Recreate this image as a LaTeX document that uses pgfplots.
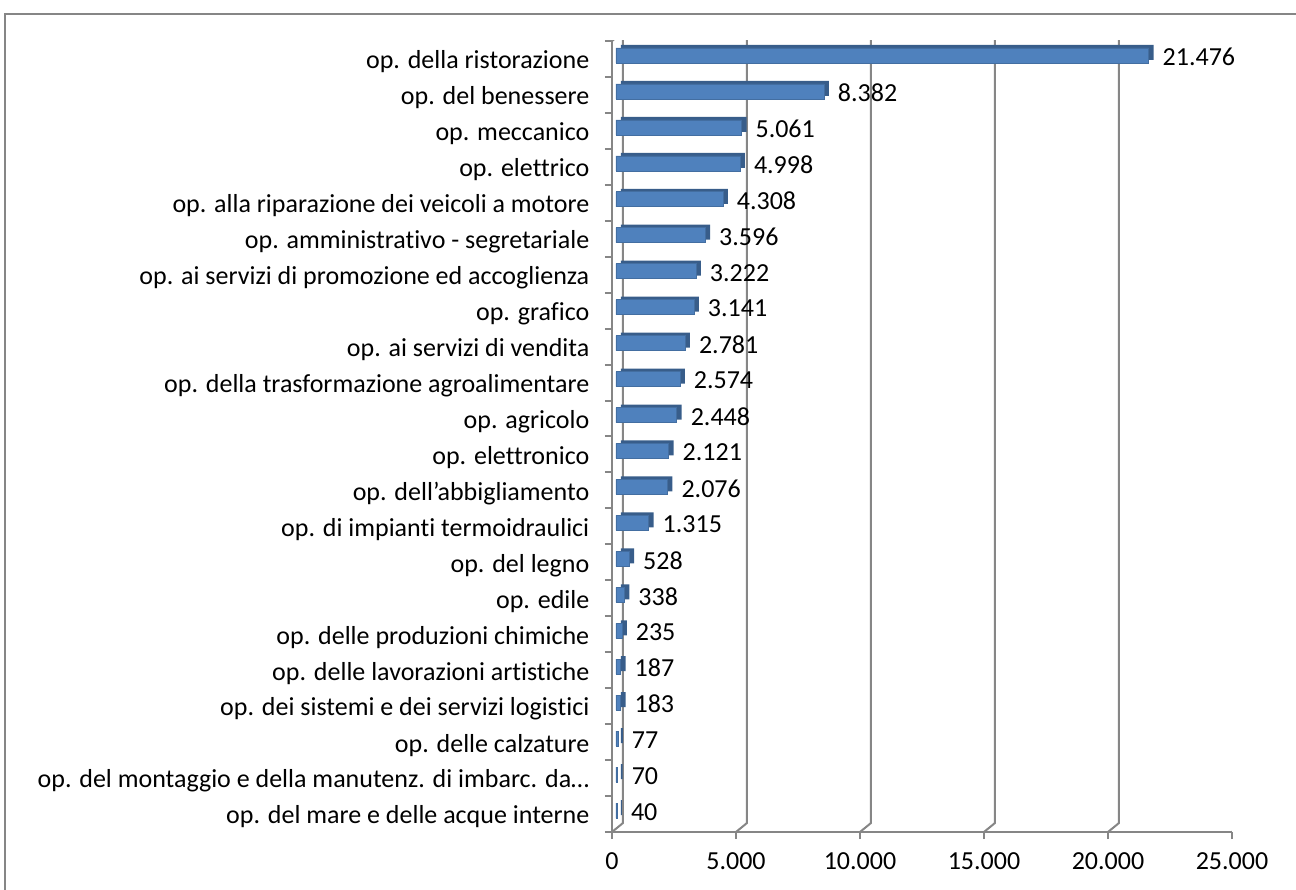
\documentclass[border=0pt]{standalone}
\usepackage{fontspec}
\setmainfont{Carlito}[Ligatures=NoCommon]
\usepackage{pgfplots}
\usepackage{pgfplotstable}
\pgfplotsset{compat=1.18}

\definecolor{gridc}{HTML}{868686}
\definecolor{barfront}{HTML}{4F81BD}
\definecolor{barside}{HTML}{385D8A}

% idx 0 = bottom row
\pgfplotstableread{
idx val
0 40
1 70
2 77
3 183
4 187
5 235
6 338
7 528
8 1315
9 2076
10 2121
11 2448
12 2574
13 2781
14 3141
15 3222
16 3596
17 4308
18 4998
19 5061
20 8382
21 21476
}\datatable

\newcommand{\lblfont}{\fontsize{13}{15.5}\selectfont}

\begin{document}
\begin{tikzpicture}
\path[use as bounding box] (-306pt,-28.5pt) rectangle (342pt,416pt);
\draw[gridc, line width=1pt] (-303.5pt,-60pt) |- (400pt,409pt);
\begin{axis}[
  at={(0,0)}, anchor=south west,
  scale only axis, width=310pt, height=395.5pt,
  xmin=0, xmax=25000, ymin=-0.5, ymax=21.5,
  axis x line=bottom, axis y line=left,
  axis line style={-, gridc, line width=1pt},
  tick align=outside, major tick length=3.5pt,
  tick style={gridc, line width=1pt},
  xtick={0,5000,...,25000},
  scaled x ticks=false,
  ytick={-0.5,0.5,...,21.5}, yticklabels={},
  extra y ticks={0,...,21},
  extra y tick labels={
    op. del mare e delle acque interne,
    op. del montaggio e della manutenz. di imbarc. da…,
    op. delle calzature,
    op. dei sistemi e dei servizi logistici,
    op. delle lavorazioni artistiche,
    op. delle produzioni chimiche,
    op. edile,
    op. del legno,
    op. di impianti termoidraulici,
    op. dell’abbigliamento,
    op. elettronico,
    op. agricolo,
    op. della trasformazione agroalimentare,
    op. ai servizi di vendita,
    op. grafico,
    op. ai servizi di promozione ed accoglienza,
    op. amministrativo - segretariale,
    op. alla riparazione dei veicoli a motore,
    op. elettrico,
    op. meccanico,
    op. del benessere,
    op. della ristorazione},
  extra y tick style={tick style={draw=none}, yticklabel style={xshift=-4.3pt, yshift=-1.5pt}},
  tick label style={font=\lblfont, text=black},
  xticklabel style={yshift=-3.5pt},
  /pgf/number format/.cd, 1000 sep={.}, assume math mode=true,
]
\pgfplotsinvokeforeach{0,5000,10000,15000,20000,25000}{
  \draw[gridc, line width=1pt] (axis cs:#1,-0.5) -- ++(5.5pt,4.5pt) -- ++(0pt,395.5pt);
}
\draw[gridc, line width=1pt] (axis cs:0,21.5) -- ++(5.5pt,4.5pt);

% side/top faces
\addplot[xbar, bar width=7.5pt, fill=barside, draw=none, xshift=4.5pt, yshift=3.25pt]
  table[x=val, y=idx] {\datatable};
% front faces
\addplot[xbar, bar width=7.5pt, fill=barfront, draw=barfront!85!black, line width=0.3pt, xshift=2pt, yshift=1.75pt]
  table[x=val, y=idx] {\datatable};
% value labels
\addplot[draw=none, mark=none, nodes near coords, point meta=x,
  every node near coord/.append style={anchor=west, xshift=5.5pt, yshift=1pt, font=\lblfont, text=black}]
  table[x=val, y=idx] {\datatable};
\end{axis}
\end{tikzpicture}
\end{document}
